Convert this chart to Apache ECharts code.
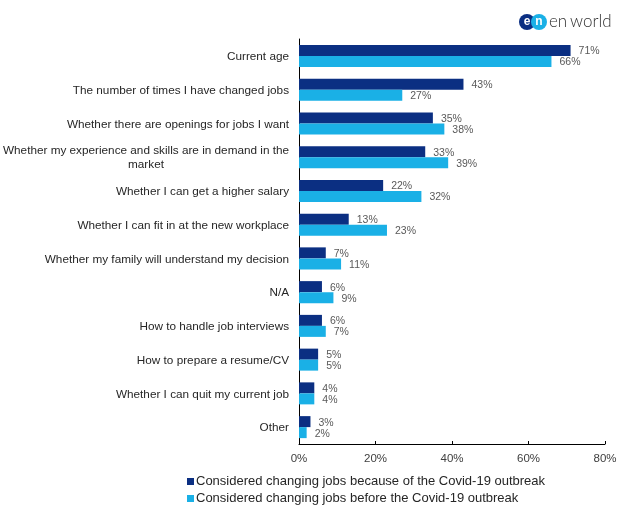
<!DOCTYPE html>
<html lang="en">
  <head>
    <meta charset="UTF-8" />
    <title>Job change concerns</title>
    <script src="https://cdn.jsdelivr.net/npm/echarts@6/dist/echarts.min.js"></script>
    <style>
      body { margin: 0; background: #fff; }
      #main { width: 640px; height: 506px; }
    </style>
  </head>
  <body>
    <div id="main"></div>
    <script>
      const categories = [
        "Current age",
        "The number of times I have changed jobs",
        "Whether there are openings for jobs I want",
        "Whether my experience and skills are in demand in the\nmarket",
        "Whether I can get a higher salary",
        "Whether I can fit in at the new workplace",
        "Whether my family will understand my decision",
        "N/A",
        "How to handle job interviews",
        "How to prepare a resume/CV",
        "Whether I can quit my current job",
        "Other"
      ];
      const covidValues = [71, 43, 35, 33, 22, 13, 7, 6, 6, 5, 4, 3];
      const beforeValues = [66, 27, 38, 39, 32, 23, 11, 9, 7, 5, 4, 2];
      const seriesNames = [
        "Considered changing jobs because of the Covid-19 outbreak",
        "Considered changing jobs before the Covid-19 outbreak"
      ];

      const font = "'Liberation Sans', Arial, sans-serif";
      const myChart = echarts.init(document.getElementById("main"));

      function barSeries(name, data, color) {
        return {
          name: name,
          type: "bar",
          data: data,
          barWidth: 11,
          barGap: "0%",
          itemStyle: { color: color },
          label: {
            show: true,
            position: "right",
            distance: 8,
            offset: [0, 1],
            formatter: "{c}%",
            color: "#595959",
            fontFamily: font,
            fontSize: 10.5
          }
        };
      }

      myChart.setOption({
        animation: false,
        backgroundColor: "#fff",
        grid: { left: 299, top: 39, width: 306, height: 405, outerBoundsMode: "none" },
        legend: {
          left: 187,
          top: 475,
          height: 40,
          padding: 0,
          orient: "vertical",
          icon: "rect",
          itemWidth: 7,
          itemHeight: 7,
          itemGap: 4,
          textStyle: { fontFamily: font, fontSize: 13, color: "#262626", padding: [0, 0, 0, -3] },
          data: seriesNames
        },
        xAxis: {
          type: "value",
          min: 0,
          max: 80,
          interval: 20,
          splitLine: { show: false },
          axisLine: { show: true, lineStyle: { color: "#000", width: 1 } },
          axisTick: { show: true, inside: true, length: 3, lineStyle: { color: "#000" } },
          axisLabel: {
            formatter: "{value}%",
            margin: 9,
            color: "#404040",
            fontFamily: font,
            fontSize: 11.5,
            hideOverlap: false
          }
        },
        yAxis: {
          type: "category",
          inverse: true,
          data: categories,
          axisLine: { show: true, lineStyle: { color: "#000", width: 1 } },
          axisTick: { show: false },
          axisLabel: {
            interval: 0,
            margin: 10,
            padding: [2, 0, 0, 0],
            color: "#262626",
            fontFamily: font,
            fontSize: 11.75,
            lineHeight: 14,
            formatter: function (value) {
              // the two line label is centred on itself
              if (value.indexOf("\n") < 0) return value;
              return value.split("\n").map(function (line) {
                return "{c|" + line + "}";
              }).join("\n");
            },
            rich: { c: { width: 286, align: "center", fontFamily: font, fontSize: 11.75, lineHeight: 14, color: "#262626" } }
          }
        },
        series: [
          barSeries(seriesNames[0], covidValues, "#0b2f82"),
          barSeries(seriesNames[1], beforeValues, "#1ab0e6")
        ],
        graphic: [
          { type: "circle", shape: { cx: 527, cy: 22, r: 8 }, style: { fill: "#0b2f82" } },
          { type: "circle", shape: { cx: 539, cy: 22, r: 8 }, style: { fill: "#1ab0e6" } },
          { type: "text", x: 527, y: 22, style: { text: "e", fill: "#fff", font: "bold 12px 'Liberation Sans'", align: "center", verticalAlign: "middle" } },
          { type: "text", x: 539, y: 22, style: { text: "n", fill: "#fff", font: "bold 12px 'Liberation Sans'", align: "center", verticalAlign: "middle" } },
          { type: "text", x: 549, y: 22, style: { text: "en", fill: "#333", font: "300 17px 'Lato'", align: "left", verticalAlign: "middle" } },
          { type: "text", x: 570, y: 22, style: { text: "world", fill: "#333", font: "300 17px 'Lato'", align: "left", verticalAlign: "middle" } }
        ]
      });
    </script>
  </body>
</html>
